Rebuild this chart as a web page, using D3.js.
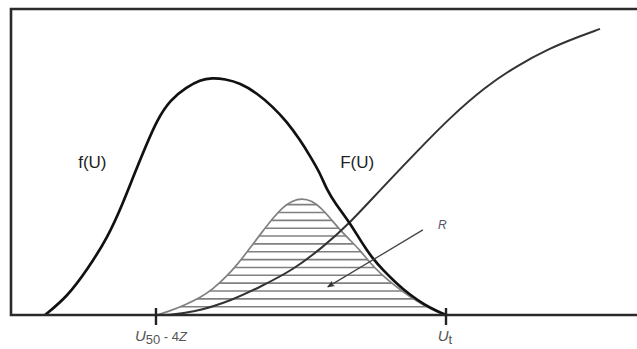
<!DOCTYPE html>
<html>
<head>
<meta charset="utf-8">
<script src="https://cdn.jsdelivr.net/npm/d3@7/dist/d3.min.js"></script>
<style>
  html, body { margin: 0; padding: 0; background: #fff; }
  svg { display: block; }
</style>
</head>
<body>
<svg id="chart" width="637" height="349"></svg>
<script>
// ---- data (U in arbitrary units 0..100, density / probability 0..1) ----
const fU = [5.43, 8.95, 12.14, 15.50, 17.89, 19.65, 21.41, 23.32, 25.40, 28.12, 30.19, 32.11, 34.19, 36.58, 39.30, 41.85, 44.09, 46.17, 47.76, 49.36, 50.48, 51.76, 54.15, 56.07, 57.83, 59.42, 61.34, 63.74, 66.13, 68.05, 69.49];
const fV = [0, 0.059, 0.147, 0.255, 0.366, 0.458, 0.546, 0.637, 0.703, 0.745, 0.768, 0.775, 0.771, 0.758, 0.725, 0.680, 0.631, 0.572, 0.520, 0.464, 0.408, 0.366, 0.301, 0.235, 0.183, 0.147, 0.108, 0.065, 0.033, 0.013, 0];

const FU = [24.60, 29.07, 35.46, 39.78, 45.05, 49.84, 54.15, 58.95, 65.34, 70.13, 75.72, 80.83, 86.10, 90.10, 94.09];
const FV = [0, 0.007, 0.049, 0.092, 0.147, 0.222, 0.301, 0.408, 0.545, 0.645, 0.745, 0.815, 0.872, 0.905, 0.935];

const RU = [23.32, 25.40, 27.80, 30.19, 32.27, 34.19, 36.26, 38.18, 40.10, 41.85, 43.45, 44.89, 46.49, 48.08, 49.52, 50.96, 52.56, 54.15, 55.75, 57.35, 58.95, 61.34, 63.74, 66.13, 68.05, 69.65];
const RV = [0, 0.013, 0.033, 0.056, 0.085, 0.121, 0.167, 0.219, 0.271, 0.317, 0.353, 0.373, 0.382, 0.373, 0.350, 0.317, 0.278, 0.245, 0.212, 0.170, 0.137, 0.095, 0.059, 0.029, 0.010, 0];

const tickU = [23.16, 69.49];
const curveLabels = [
  {text: "f(U)", u: 13.0, v: 0.48},
  {text: "F(U)", u: 55.3, v: 0.48}
];
const rLabel = {text: "R", u: 68.9, v: 0.28};
const rArrow = {u1: 65.8, v1: 0.278, u2: 50.6, v2: 0.092};

// ---- layout ----
const svg = d3.select("#chart");
const x = d3.scaleLinear().domain([0, 100]).range([11, 637]);
const y = d3.scaleLinear().domain([0, 1]).range([315, 9]);

const line = d3.line().x(d => x(d[0])).y(d => y(d[1])).curve(d3.curveBasis);

const fData = fU.map((u, i) => [u, fV[i]]);
const FData = FU.map((u, i) => [u, FV[i]]);
const RData = RU.map((u, i) => [u, RV[i]]);

// hatched region R
const defs = svg.append("defs");
defs.append("clipPath").attr("id", "rclip")
  .append("path").attr("d", line(RData) + "Z");

defs.append("marker").attr("id", "arrow")
  .attr("viewBox", "0 0 10 10").attr("refX", 9).attr("refY", 5)
  .attr("markerWidth", 6).attr("markerHeight", 6).attr("orient", "auto")
  .append("path").attr("d", "M0,1 L10,5 L0,9 L3,5 Z").attr("fill", "#333");

const hatch = svg.append("g").attr("clip-path", "url(#rclip)");
const hatchYs = d3.range(306.7, 180, -7.85);
hatch.selectAll("line").data(hatchYs).join("line")
  .attr("x1", x(20)).attr("x2", x(72))
  .attr("y1", d => d).attr("y2", d => d)
  .attr("stroke", "#808080").attr("stroke-width", 1.6);

svg.append("path").attr("d", line(RData))
  .attr("fill", "none").attr("stroke", "#808080").attr("stroke-width", 1.7);

// F(U) curve
svg.append("path").attr("d", line(FData))
  .attr("fill", "none").attr("stroke", "#333").attr("stroke-width", 2);

// f(U) curve
svg.append("path").attr("d", line(fData))
  .attr("fill", "none").attr("stroke", "#111").attr("stroke-width", 2.7)
  .attr("stroke-linejoin", "round");

// frame: left, top, bottom axis
svg.append("path")
  .attr("d", `M${x(100)},${y(1)} L${x(0)},${y(1)} L${x(0)},${y(0)} L${x(100)},${y(0)}`)
  .attr("fill", "none").attr("stroke", "#2a2a2a").attr("stroke-width", 2.6);

// ticks
svg.selectAll("line.tick").data(tickU).join("line").attr("class", "tick")
  .attr("x1", d => x(d)).attr("x2", d => x(d))
  .attr("y1", y(0) - 7).attr("y2", y(0) + 10)
  .attr("stroke", "#222").attr("stroke-width", 2.4);

// tick labels
const t1 = svg.append("text").attr("x", x(tickU[0]) + 5).attr("y", 341)
  .attr("text-anchor", "middle").attr("font-family", "Liberation Sans, Arial, sans-serif")
  .attr("font-size", 13).attr("fill", "#555");
t1.append("tspan").attr("font-style", "italic").attr("font-size", 15).text("U");
t1.append("tspan").attr("dy", 3).attr("font-size", 13).text("50");
t1.append("tspan").attr("dy", -3).text(" - 4");
t1.append("tspan").attr("font-style", "italic").text("Z");

const t2 = svg.append("text").attr("x", x(tickU[1]) - 1).attr("y", 341)
  .attr("text-anchor", "middle").attr("font-family", "Liberation Sans, Arial, sans-serif")
  .attr("fill", "#555");
t2.append("tspan").attr("font-style", "italic").attr("font-size", 15).text("U");
t2.append("tspan").attr("dy", 3).attr("font-size", 13).text("t");

// curve labels
svg.selectAll("text.clab").data(curveLabels).join("text").attr("class", "clab")
  .attr("x", d => x(d.u)).attr("y", d => y(d.v))
  .attr("text-anchor", "middle")
  .attr("font-family", "Liberation Sans, Arial, sans-serif")
  .attr("font-size", 17).attr("fill", "#222")
  .text(d => d.text);

// R label and arrow
svg.append("text").attr("x", x(rLabel.u)).attr("y", y(rLabel.v))
  .attr("text-anchor", "middle")
  .attr("font-family", "Liberation Sans, Arial, sans-serif")
  .attr("font-style", "italic").attr("font-size", 12).attr("fill", "#556")
  .text(rLabel.text);

svg.append("line")
  .attr("x1", x(rArrow.u1)).attr("y1", y(rArrow.v1))
  .attr("x2", x(rArrow.u2)).attr("y2", y(rArrow.v2))
  .attr("stroke", "#444").attr("stroke-width", 1.3)
  .attr("marker-end", "url(#arrow)");
</script>
</body>
</html>
